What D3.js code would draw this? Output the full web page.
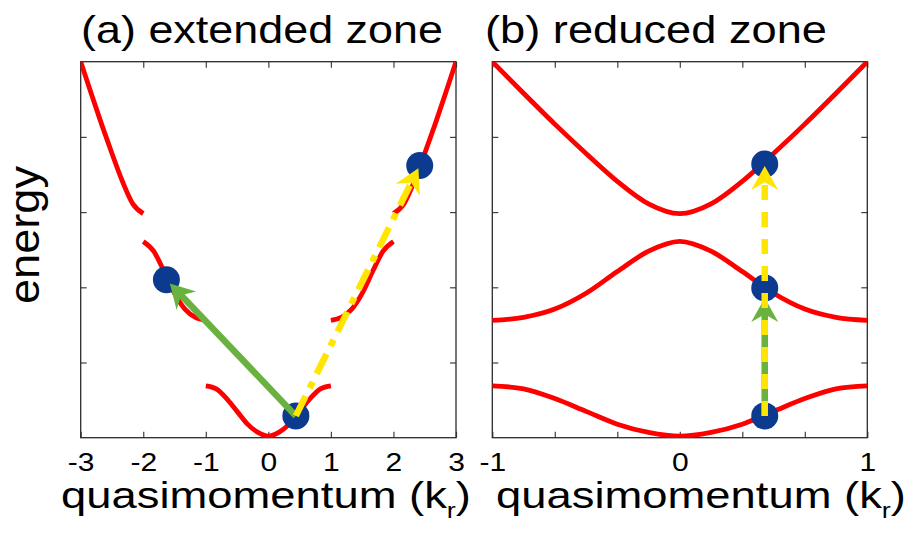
<!DOCTYPE html>
<html>
<head>
<meta charset="utf-8">
<script src="https://cdn.jsdelivr.net/npm/d3@7"></script>
<style>
  html, body { margin: 0; padding: 0; background: #fff; }
  svg { display: block; font-family: "Liberation Sans", Arial, sans-serif; }
</style>
</head>
<body>
<svg id="chart" width="908" height="542"></svg>
<script>
// Quasimomentum samples across the first Brillouin zone (units of k_r)
const kReduced = [-1, -5/6, -2/3, -1/2, -1/3, -1/6, 0, 1/6, 1/3, 1/2, 2/3, 5/6, 1];
// Energies of the three lowest bands at those samples
const band1 = [0.69, 0.65, 0.52, 0.35, 0.18, 0.07, 0.02, 0.07, 0.18, 0.35, 0.52, 0.65, 0.69];
const band2 = [1.56, 1.60, 1.71, 1.92, 2.21, 2.48, 2.61, 2.48, 2.21, 1.92, 1.71, 1.60, 1.56];
const band3 = [5.00, 4.58, 4.17, 3.78, 3.41, 3.11, 2.98, 3.11, 3.41, 3.78, 4.17, 4.58, 5.00];

// Occupied states (initial, after the first and after the second transition)
const statesExtended = [{k: 0.44, E: 0.29}, {k: -1.63, E: 2.10}, {k: 2.42, E: 3.62}];
const statesReduced  = [{k: 0.453, E: 0.29}, {k: 0.453, E: 1.99}, {k: 0.453, E: 3.64}];

// Axis ticks
const extTicks = [-3, -2, -1, 0, 1, 2, 3];
const redTicks = [-1, -2/3, -1/3, 0, 1/3, 2/3, 1];
const redTickLabels = [-1, 0, 1];
const energyTicks = [1, 2, 3, 4];

const titles = ["(a) extended zone", "(b) reduced zone"];
const xLabel = "quasimomentum (k";
const xLabelSub = "r";
const yLabel = "energy";

// ---------- layout & style ----------
const RED = "#ff0000", BLUE = "#0b3a8f", GREEN = "#6ab23f", YELLOW = "#ffe500";
const yTop = 61.7, yBot = 437.7;
const svg = d3.select("#chart");

const y = d3.scaleLinear().domain([0, 5]).range([yBot, yTop]);
const xExt = d3.scaleLinear().domain([-3, 3]).range([80.7, 456]);
const xRed = d3.scaleLinear().domain([-1, 1]).range([492.3, 867.3]);

const pts = (ks, es, shift) => ks.map((k, i) => ({k: k + shift, E: es[i]}));
const pick = (ks, es, test, shift) => pts(ks, es, shift).filter((d, i) => test(ks[i]));

// Extended zone: fold each band out to its own Brillouin zone
const extSegments = [
  pts(kReduced, band1, 0),
  pick(kReduced, band2, k => k <= 0, 2),
  pick(kReduced, band2, k => k >= 0, -2),
  pick(kReduced, band3, k => k >= 0, 2),
  pick(kReduced, band3, k => k <= 0, -2)
];
const redSegments = [
  pts(kReduced, band1, 0),
  pts(kReduced, band2, 0),
  pts(kReduced, band3, 0)
];

// plain hyphen for negative tick labels
const tickText = v => (v < 0 ? "-" : "") + Math.abs(Math.round(v));

function drawPanel(id, x, ticks, labelTicks, segments, states, arrows) {
  const x0 = x.range()[0], x1 = x.range()[1];
  const g = svg.append("g");

  svg.append("clipPath").attr("id", "clip-" + id)
    .append("rect").attr("x", x0).attr("y", yTop).attr("width", x1 - x0).attr("height", yBot - yTop);

  // inward ticks on all four sides
  const fmt = v => labelTicks.some(t => Math.abs(t - v) < 1e-9) ? tickText(v) : "";
  const bottom = g.append("g").attr("transform", `translate(0,${yBot})`)
    .call(d3.axisBottom(x).tickValues(ticks).tickSize(-6).tickPadding(16).tickFormat(fmt));
  g.append("g").attr("transform", `translate(0,${yTop})`)
    .call(d3.axisTop(x).tickValues(ticks).tickSize(-6).tickFormat(""));
  g.append("g").attr("transform", `translate(${x0},0)`)
    .call(d3.axisLeft(y).tickValues(energyTicks).tickSize(-6).tickFormat(""));
  g.append("g").attr("transform", `translate(${x1},0)`)
    .call(d3.axisRight(y).tickValues(energyTicks).tickSize(-6).tickFormat(""));
  g.selectAll(".domain").remove();
  g.selectAll(".tick line").attr("stroke", "#404040").attr("stroke-width", 1.2);
  bottom.selectAll(".tick text")
    .attr("font-family", "'Liberation Sans', Arial, sans-serif")
    .attr("font-size", 25).attr("fill", "#000")
    .attr("transform", "scale(1.2,1)");

  g.append("rect").attr("x", x0).attr("y", yTop).attr("width", x1 - x0).attr("height", yBot - yTop)
    .attr("fill", "none").attr("stroke", "#2b2b2b").attr("stroke-width", 1.3);

  // bands
  const line = d3.line().x(d => x(d.k)).y(d => y(d.E)).curve(d3.curveMonotoneX);
  g.append("g").attr("clip-path", `url(#clip-${id})`)
    .selectAll("path").data(segments).join("path")
    .attr("d", line).attr("fill", "none").attr("stroke", RED).attr("stroke-width", 4.8);

  // states
  g.append("g").selectAll("circle").data(states).join("circle")
    .attr("cx", d => x(d.k)).attr("cy", d => y(d.E)).attr("r", 13.5).attr("fill", BLUE);

  // transitions
  arrows.forEach(a => drawArrow(g, x(a.from.k), y(a.from.E), x(a.to.k), y(a.to.E), a));
}

function drawArrow(g, xa, ya, xb, yb, a) {
  const L = Math.hypot(xb - xa, yb - ya);
  const ux = (xb - xa) / L, uy = (yb - ya) / L;
  const px = -uy, py = ux;
  const tx = xb - ux * a.shorten, ty = yb - uy * a.shorten;
  const headLen = 24, halfW = 13.5, notch = 0.68 * headLen;
  const bx = tx - ux * headLen, by = ty - uy * headLen;
  const nx = tx - ux * notch, ny = ty - uy * notch;
  g.append("line")
    .attr("x1", xa).attr("y1", ya).attr("x2", nx + ux * 1).attr("y2", ny + uy * 1)
    .attr("stroke", a.color).attr("stroke-width", 6.5)
    .attr("stroke-dasharray", a.dash || null);
  g.append("path")
    .attr("d", `M${tx},${ty}L${bx + px * halfW},${by + py * halfW}L${nx},${ny}L${bx - px * halfW},${by - py * halfW}Z`)
    .attr("fill", a.color);
}

drawPanel("ext", xExt, extTicks, extTicks, extSegments, statesExtended, [
  {from: statesExtended[0], to: statesExtended[1], color: GREEN, shorten: 5},
  {from: statesExtended[0], to: statesExtended[2], color: YELLOW, shorten: 3, dash: "22,9,7,9"}
]);
drawPanel("red", xRed, redTicks, redTickLabels, redSegments, statesReduced, [
  {from: statesReduced[0], to: statesReduced[1], color: GREEN, shorten: 10},
  {from: statesReduced[0], to: statesReduced[2], color: YELLOW, shorten: 2, dash: "15,12"}
]);

// ---------- text ----------
function fitText(sel, cx, baseline, width) {
  const w = sel.node().getBBox().width;
  sel.attr("transform", `translate(${cx},${baseline}) scale(${width / w},1)`);
}

[[titles[0], 262, 362], [titles[1], 656, 342]].forEach(([t, cx, w]) => {
  const txt = svg.append("text").attr("text-anchor", "middle").attr("font-size", 38.5).text(t);
  fitText(txt, cx, 42.7, w);
});

[[266, 410], [701, 410]].forEach(([cx, w]) => {
  const txt = svg.append("text").attr("text-anchor", "middle").attr("font-size", 37);
  txt.append("tspan").text(xLabel);
  txt.append("tspan").attr("font-size", 22).attr("dy", 10).text(xLabelSub);
  txt.append("tspan").attr("dy", -10).text(")");
  fitText(txt, cx, 508, w);
});

svg.append("text").attr("text-anchor", "middle").attr("font-size", 43)
  .attr("transform", "translate(39,235) rotate(-90) scale(1.05,1)").text(yLabel);
</script>
</body>
</html>
